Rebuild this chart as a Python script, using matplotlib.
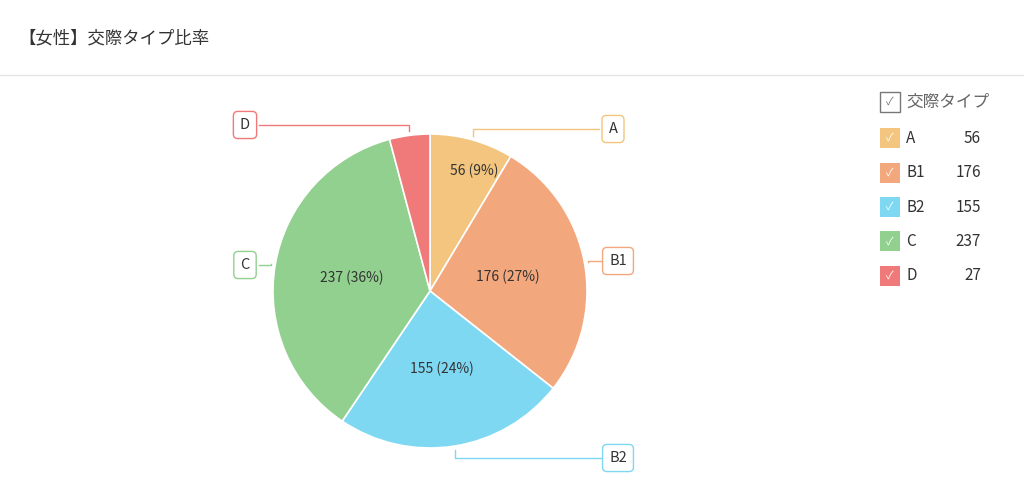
import numpy as np
import matplotlib.pyplot as plt
from matplotlib.patches import Rectangle

plt.rcParams['font.family'] = ['Noto Sans CJK JP', 'DejaVu Sans']

labels = ["A", "B1", "B2", "C", "D"]
values = [56, 176, 155, 237, 27]
colors = ["#F3C57E", "#F2A77D", "#7FD8F2", "#92D08F", "#F07A7A"]
title = "【女性】交際タイプ比率"
legend_title = "交際タイプ"

W, H = 1024, 498
fig = plt.figure(figsize=(W / 100, H / 100), dpi=100)
ax = fig.add_axes([0, 0, 1, 1])
ax.set_xlim(0, W)
ax.set_ylim(0, H)
ax.set_aspect('equal')
ax.axis('off')

def Y(py):
    return H - py

fig.text(18 / W, 1 - 38 / H, title, fontsize=12.5, color="#333333", va='center')
ax.plot([0, W], [Y(75), Y(75)], color="#e5e5e5", lw=1)

cx, cy, r = 430, Y(291), 157
total = sum(values)
wedges, _ = ax.pie(values, colors=colors, startangle=90, counterclock=False,
                   center=(cx, cy), radius=r, frame=True,
                   wedgeprops=dict(edgecolor='white', linewidth=1.2))
ax.set_xlim(0, W)
ax.set_ylim(0, H)
ax.axis('off')

# inside labels
inner = [(474, 171), (508, 277), (442, 369), (352, 278), None]
box_y = [129, 261, 458, 265, 125]
box_x = [613, 618, 618, 245, 245]
start = 0.0
for i, v in enumerate(values):
    frac = v / total
    mid = (start + frac / 2) * 2 * np.pi
    start += frac
    if inner[i]:
        ax.text(inner[i][0], Y(inner[i][1]), f"{v} ({round(frac*100)}%)",
                ha='center', va='center', fontsize=10, color="#333333")
    ex = cx + (r + 4) * np.sin(mid)
    ey = cy + (r + 4) * np.cos(mid)
    bx, by = box_x[i], Y(box_y[i])
    side = 1 if bx > cx else -1
    ax.plot([ex, ex, bx - side * 14], [ey, by, by], color=colors[i], lw=1)
    ax.text(bx, by, labels[i], ha='center', va='center', fontsize=10.5, color="#333333",
            bbox=dict(boxstyle='round,pad=0.45,rounding_size=0.3', fc='white', ec=colors[i], lw=1))

# legend
ax.add_patch(Rectangle((880, Y(112)), 20, 20, fc='white', ec='#777777', lw=1))
ax.text(890, Y(102), "✓", ha='center', va='center', fontsize=8, color='#777777')
ax.text(906, Y(102), legend_title, ha='left', va='center', fontsize=12, color='#666666')
for i, (lab, v) in enumerate(zip(labels, values)):
    yy = 138 + i * 34.5
    ax.add_patch(Rectangle((880, Y(yy + 10)), 20, 20, fc=colors[i], ec='none'))
    ax.text(890, Y(yy), "✓", ha='center', va='center', fontsize=8, color='white')
    ax.text(906, Y(yy), lab, ha='left', va='center', fontsize=11, color='#333333')
    ax.text(981, Y(yy), str(v), ha='right', va='center', fontsize=11, color='#333333')

fig.savefig("out.png", dpi=100, facecolor='white')
